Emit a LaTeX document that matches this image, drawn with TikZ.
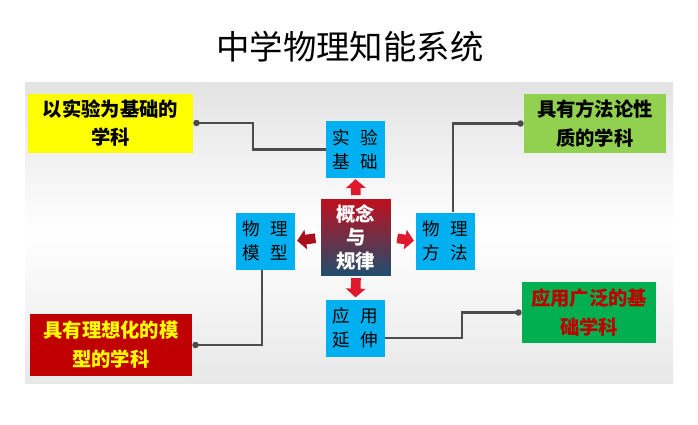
\documentclass[tikz,border=0pt]{standalone}
\usepackage{fontspec}
\setmainfont{Noto Sans CJK SC}
\usetikzlibrary{arrows.meta}

\definecolor{boxblue}{HTML}{00B0F0}
\definecolor{noteyellow}{HTML}{FFFF00}
\definecolor{notered}{HTML}{C00000}
\definecolor{notelime}{HTML}{92D050}
\definecolor{notegreen}{HTML}{00B050}
\definecolor{pushred}{HTML}{E0182D}
\definecolor{pushdark}{HTML}{A8101C}
\definecolor{coretop}{HTML}{C0101E}
\definecolor{corebot}{HTML}{1F4E6E}

\tikzset{
  cell/.style={fill=boxblue, minimum width=1.18cm, minimum height=1.14cm, inner sep=0pt,
    align=center, font=\fontsize{10}{14}\selectfont},
  note/.style={minimum height=1.18cm, inner sep=0pt, align=center,
    font=\bfseries\fontsize{11}{16.5}\selectfont},
  link/.style={draw=black!70, line width=1.2pt},
  push/.style={draw=pushred, line width=5.5pt, -{Triangle[length=5pt,width=11pt]}}
}

\begin{document}
\begin{tikzpicture}[x=0.02cm, y=-0.02cm]
        \useasboundingbox (0,0) rectangle (698,424);
        \shade[top color=black!11, bottom color=black!9, middle color=white] (25,82) rectangle (673,383);
        \node[font=\fontsize{19}{22}\selectfont] (title) at (350,47) {中学物理知能系统};

        \node[top color=coretop, bottom color=corebot, text=white, minimum width=1.4cm, minimum height=1.54cm,
          align=center, inner sep=0pt, font=\bfseries\fontsize{11}{13.3}\selectfont] (core) at (356,237.5) {概念\\与\\规律};
        \node[cell] (exp) at (355.5,149.5) {实\hspace{0.6em}验\\基\hspace{0.6em}础};
        \node[cell] (model) at (265.5,241) {物\hspace{0.6em}理\\模\hspace{0.6em}型};
        \node[cell] (method) at (445.5,241) {物\hspace{0.6em}理\\方\hspace{0.6em}法};
        \node[cell] (app) at (355.5,328) {应\hspace{0.6em}用\\延\hspace{0.6em}伸};

        \node[note, fill=noteyellow, minimum width=3.3cm] (base) at (110.5,123) {以实验为基础的\\学科};
        \node[note, fill=notered, text=noteyellow, minimum width=3.24cm, minimum height=1.24cm] (ideal) at (111,345) {具有理想化的模\\型的学科};
        \node[note, fill=notelime, minimum width=2.84cm] (meth) at (595,123.5) {具有方法论性\\质的学科};
        \node[note, fill=notegreen, text=notered, minimum width=2.68cm, minimum height=1.22cm] (wide) at (589,312.5) {应用广泛的基\\础学科};

        \draw[push, shorten <=2pt, shorten >=0.5pt] (core.north) -- (exp.south);
        \draw[push, draw=pushdark, shorten <=3pt, shorten >=1pt] (core.west) -- (model.east);
        \draw[push, shorten <=3.4pt, shorten >=1pt] (core.east) -- (method.west);
        \draw[push, shorten <=1pt, shorten >=1pt] (core.south) -- (app.north);

        \draw[link, {Circle[length=3.6pt]}-] (base.east) -- ++(60,0) |- (exp.west);
        \draw[link, {Circle[length=3.6pt]}-] (ideal.east) -| ([xshift=-0.07cm]model.south);
        \draw[link, -{Circle[length=3.6pt]}] ([xshift=0.15cm]method.north) |- (meth.west);
        \draw[link, -{Circle[length=3.6pt]}] ([yshift=-0.2cm]app.east) -- ++(77,0) |- (wide.west);
    \end{tikzpicture}
\end{document}
